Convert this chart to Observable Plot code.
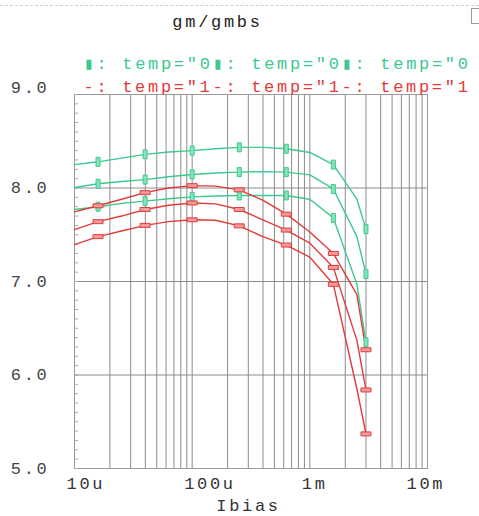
<!DOCTYPE html>
<html><head><meta charset="utf-8">
<script src="https://cdn.jsdelivr.net/npm/d3@7"></script>
<script src="https://cdn.jsdelivr.net/npm/@observablehq/plot@0.6"></script>
<style>
body{margin:0;background:#fff;}
#wrap{position:relative;width:479px;height:516px;overflow:hidden;}
#wrap svg text{font-variant-numeric:slashed-zero;font-feature-settings:"zero" 1;}
#topline{position:absolute;left:0;top:5px;width:479px;border-top:1px dashed #d0d0d0;}
#icon{position:absolute;left:471px;top:8px;width:10px;height:16px;border:1px solid #9a9a9a;box-sizing:border-box;}
</style>
</head><body><div id="wrap"><div id="topline"></div><div id="icon"></div></div>
<script>
// sweep points of Ibias (A)
const ibias = [1e-5, 1.585e-5, 2.512e-5, 3.981e-5, 6.31e-5, 1e-4, 1.585e-4, 2.512e-4, 3.981e-4, 6.31e-4, 1e-3, 1.585e-3, 2.512e-3, 3e-3];
// gm/gmbs, temp="0..." (green)
const green1 = [8.25, 8.28, 8.32, 8.36, 8.385, 8.40, 8.42, 8.435, 8.435, 8.42, 8.38, 8.25, 7.88, 7.56];
const green2 = [8.005, 8.045, 8.07, 8.09, 8.12, 8.145, 8.16, 8.17, 8.175, 8.17, 8.14, 7.99, 7.48, 7.08];
const green3 = [7.77, 7.80, 7.835, 7.86, 7.885, 7.905, 7.915, 7.92, 7.92, 7.92, 7.88, 7.68, 6.97, 6.35];
// gm/gmbs, temp="1..." (red)
const red1 = [7.745, 7.81, 7.88, 7.95, 8.00, 8.025, 8.02, 7.98, 7.87, 7.72, 7.53, 7.30, 6.86, 6.27];
const red2 = [7.555, 7.64, 7.70, 7.77, 7.815, 7.84, 7.83, 7.77, 7.66, 7.55, 7.41, 7.15, 6.37, 5.84];
const red3 = [7.395, 7.48, 7.54, 7.60, 7.64, 7.66, 7.655, 7.595, 7.48, 7.39, 7.26, 6.97, 5.85, 5.37];
// indices of sweep points that carry a marker
const markerIdx = [1, 3, 5, 7, 9, 11, 13];

const xTickValues = [1e-5, 1e-4, 1e-3, 1e-2];
const xTickLabels = ["10u", "100u", "1m", "10m"];
const yTickValues = [5, 6, 7, 8, 9];
const yTickLabels = ["5.0", "6.0", "7.0", "8.0", "9.0"];
const title = "gm/gmbs";
const xLabel = "Ibias";
const legendGreen = "▮: temp=\"0▮: temp=\"0▮: temp=\"0";
const legendRed = "-: temp=\"1-: temp=\"1-: temp=\"1";

const GREEN = "#3cc98f";
const RED = "#e23b3b";

const series = [
  {name: "g1", group: "green", values: green1},
  {name: "g2", group: "green", values: green2},
  {name: "g3", group: "green", values: green3},
  {name: "r1", group: "red", values: red1},
  {name: "r2", group: "red", values: red2},
  {name: "r3", group: "red", values: red3}
];
const rows = series.flatMap(s => s.values.map((v, i) => ({series: s.name, group: s.group, x: ibias[i], y: v, i})));
const marks = rows.filter(d => markerIdx.includes(d.i));

const gridX = [];
for (const dec of [1e-5, 1e-4, 1e-3]) for (let k = 1; k <= 9; k++) gridX.push(dec * k);
const minorY = d3.range(50, 91).map(d => d / 10);

const vRect = {draw(ctx) { ctx.rect(-2, -4.5, 4, 9); }};
const hRect = {draw(ctx) { ctx.rect(-5, -2, 10, 4); }};

const fmtX = d => xTickLabels[xTickValues.indexOf(d)];
const fmtY = d => yTickLabels[yTickValues.indexOf(d)];

const chart = Plot.plot({
  width: 479,
  height: 516,
  marginLeft: 74,
  marginRight: 52,
  marginTop: 94,
  marginBottom: 48,
  style: {fontFamily: "'Liberation Mono', monospace", fontSize: "17px", letterSpacing: "2.7px", color: "#333", background: "transparent"},
  x: {type: "log", domain: [1e-5, 1e-2], axis: null},
  y: {domain: [5, 9], axis: null},
  marks: [
    Plot.ruleX(gridX, {stroke: "#8c8c8c", strokeWidth: 1}),
    Plot.ruleY([6, 7, 8], {stroke: "#8c8c8c", strokeWidth: 1}),
    Plot.frame({stroke: "#9a9a9a"}),
    Plot.axisY(minorY, {tickSize: -4, tickFormat: () => "", stroke: "#aaa", label: null}),
    Plot.axisY([5, 6, 7, 8], {tickSize: 0, tickPadding: 25, tickFormat: fmtY, fill: "#444", label: null}),
    Plot.axisY([9], {tickSize: 0, tickPadding: 25, tickFormat: fmtY, dy: -7, fill: "#444", label: null}),
    Plot.axisX([1e-5, 1e-4, 1e-3], {tickSize: 0, tickPadding: 8, tickFormat: fmtX, textAnchor: "start", dx: -8, fill: "#333", label: null}),
    Plot.axisX([1e-2], {tickSize: 0, tickPadding: 8, tickFormat: fmtX, textAnchor: "start", dx: -21, fill: "#333", label: null}),
    Plot.line(rows.filter(d => d.group === "green"), {x: "x", y: "y", z: "series", stroke: GREEN, strokeWidth: 1.4}),
    Plot.line(rows.filter(d => d.group === "red"), {x: "x", y: "y", z: "series", stroke: RED, strokeWidth: 1.4}),
    Plot.dot(marks.filter(d => d.group === "green"), {x: "x", y: "y", symbol: vRect, r: 3, stroke: GREEN, fill: "#86e3b9", strokeWidth: 1}),
    Plot.dot(marks.filter(d => d.group === "red"), {x: "x", y: "y", symbol: hRect, r: 3, stroke: RED, fill: "#f49a9a", strokeWidth: 1}),
    Plot.text([title], {frameAnchor: "top-left", dx: 143, dy: -80, textAnchor: "middle", fill: "#222"}),
    Plot.text([legendGreen], {frameAnchor: "top-left", dx: 9, dy: -38, textAnchor: "start", fill: GREEN}),
    Plot.text([legendRed], {frameAnchor: "top-left", dx: 9, dy: -15, textAnchor: "start", fill: RED}),
    Plot.text([xLabel], {frameAnchor: "bottom-left", dx: 174, dy: 42, textAnchor: "middle", fill: "#333"})
  ]
});
document.getElementById("wrap").prepend(chart);
</script>
</body></html>
